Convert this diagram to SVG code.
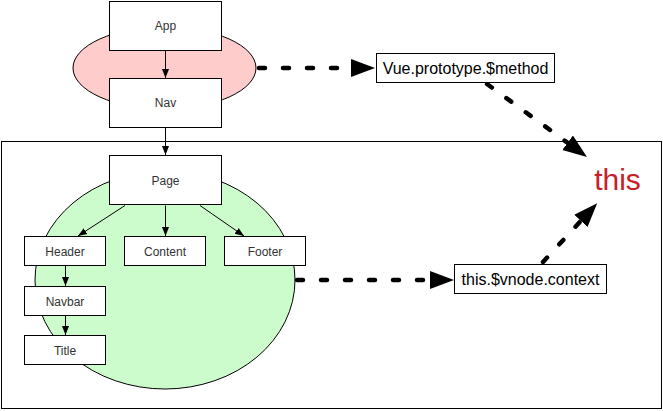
<svg xmlns="http://www.w3.org/2000/svg" width="663" height="411" viewBox="0 0 663 411">
<defs>
<style>
.box{fill:#fff;stroke:#000;stroke-width:1}
.lbl{font-family:"Liberation Sans",Arial,sans-serif;font-size:12px;fill:#333;text-anchor:middle;dominant-baseline:central}
.big{font-family:"Liberation Sans",Arial,sans-serif;font-size:16px;fill:#000;text-anchor:middle;dominant-baseline:central}
.edge{stroke:#000;stroke-width:1;fill:none;marker-end:url(#sa)}
.dash{stroke:#000;stroke-width:4.5;fill:none;stroke-dasharray:6 18;stroke-linecap:round;marker-end:url(#ba)}
</style>
<marker id="sa" markerUnits="userSpaceOnUse" markerWidth="10" markerHeight="10" refX="9" refY="0" viewBox="0 -5 10 10" orient="auto">
<path d="M0,-3.5 L9,0 L0,3.5 z" fill="#000"/>
</marker>
<marker id="ba" markerUnits="userSpaceOnUse" markerWidth="26" markerHeight="20" refX="0" refY="0" viewBox="0 -10 26 20" orient="auto">
<path d="M0,-9 L24,0 L0,9 z" fill="#000"/>
</marker>
</defs>
<g id="frame"><rect x="1.5" y="141.5" width="660" height="267" fill="none" stroke="#000" stroke-width="1"/></g>
<g id="pinkZone"><ellipse cx="164.5" cy="68" rx="91.5" ry="41" fill="#ffcccc" stroke="#000" stroke-width="1"/></g>
<g id="greenZone"><ellipse cx="165" cy="280" rx="130" ry="109" fill="#ccfccc" stroke="#000" stroke-width="1"/></g>
<g id="connectors">
<line class="edge" x1="165.5" y1="51" x2="165.5" y2="78"/>
<line class="edge" x1="165.5" y1="128" x2="165.5" y2="155"/>
<line class="edge" x1="125" y1="205.5" x2="78" y2="236"/>
<line class="edge" x1="165.5" y1="205.5" x2="165.5" y2="236"/>
<line class="edge" x1="200" y1="205.5" x2="244" y2="236"/>
<line class="edge" x1="65.5" y1="266" x2="65.5" y2="286"/>
<line class="edge" x1="65.5" y1="316" x2="65.5" y2="335"/>
<line class="dash" x1="259" y1="68" x2="351" y2="68"/>
<line class="dash" x1="487" y1="84" x2="567.6" y2="142.8"/>
<line class="dash" x1="297" y1="280" x2="430" y2="280"/>
<line class="dash" x1="543" y1="262" x2="580.9" y2="220.8"/>
</g>
<g id="App"><rect class="box" x="109.5" y="1.5" width="112" height="49"/><text class="lbl" x="165.5" y="26">App</text></g>
<g id="Nav"><rect class="box" x="109.5" y="78.5" width="112" height="49"/><text class="lbl" x="165.5" y="103">Nav</text></g>
<g id="Page"><rect class="box" x="109.5" y="155.5" width="112" height="49"/><text class="lbl" x="165.5" y="181">Page</text></g>
<g id="Header"><rect class="box" x="24.5" y="236.5" width="81" height="29"/><text class="lbl" x="65" y="251.5">Header</text></g>
<g id="Content"><rect class="box" x="124.5" y="236.5" width="81" height="29"/><text class="lbl" x="165" y="251.5">Content</text></g>
<g id="Footer"><rect class="box" x="224.5" y="236.5" width="81" height="29"/><text class="lbl" x="265" y="251.5">Footer</text></g>
<g id="Navbar"><rect class="box" x="24.5" y="286.5" width="81" height="29"/><text class="lbl" x="65" y="301.5">Navbar</text></g>
<g id="Title"><rect class="box" x="24.5" y="335.5" width="81" height="29"/><text class="lbl" x="65" y="350.5">Title</text></g>
<g id="VueProto"><rect class="box" x="376.5" y="53.5" width="178" height="29"/><text class="big" x="465.5" y="68.5">Vue.prototype.$method</text></g>
<g id="VnodeContext"><rect class="box" x="454.5" y="264.5" width="152" height="29"/><text class="big" x="530.5" y="279.5">this.$vnode.context</text></g>
<g id="This"><text x="617.5" y="190" font-family="'Liberation Sans',Arial,sans-serif" font-size="30" fill="#c8202a" text-anchor="middle">this</text></g>
</svg>
